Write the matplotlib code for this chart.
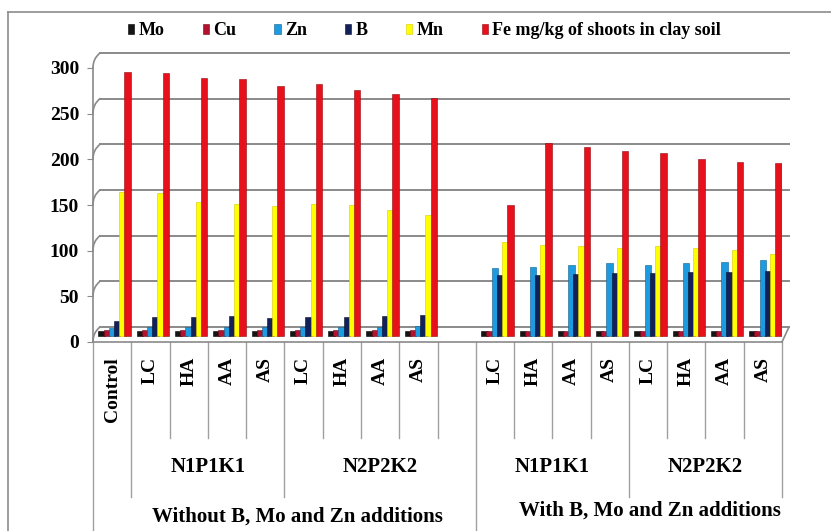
import numpy as np
import matplotlib
matplotlib.use('Agg')
import matplotlib.pyplot as plt
import matplotlib.transforms as mtransforms
from matplotlib.lines import Line2D

plt.rcParams['font.family'] = ['Liberation Serif', 'DejaVu Serif']
plt.rcParams['font.weight'] = 'bold'

# categories
without_labels = ['Control', 'LC', 'HA', 'AA', 'AS', 'LC', 'HA', 'AA', 'AS']
with_labels = ['LC', 'HA', 'AA', 'AS', 'LC', 'HA', 'AA', 'AS']
group_labels = ['N1P1K1', 'N2P2K2', 'N1P1K1', 'N2P2K2']
part_labels = ['Without B, Mo and Zn additions', 'With B, Mo and Zn additions']
series_names = ['Mo', 'Cu', 'Zn', 'B', 'Mn', 'Fe mg/kg of shoots in clay soil']

# values (mg/kg)
mo_without = [6, 6, 6, 6, 6, 6, 6, 6, 6]
mo_with = [5, 5, 5, 5, 5, 5, 5, 5]
cu_without = [7, 7, 7, 7, 7, 7, 7, 7, 7]
cu_with = [5, 5, 5, 5, 5, 5, 5, 5]
zn_without = [9, 10, 10, 10, 10, 10, 10, 10, 11]
zn_with = [74, 76, 78, 80, 78, 80, 81, 83]
b_without = [16, 21, 21, 22, 20, 21, 21, 22, 23]
b_with = [67, 67, 68, 69, 69, 70, 70, 71]
mn_without = [158, 157, 147, 145, 142, 145, 143, 138, 132]
mn_with = [103, 100, 98, 96, 98, 96, 94, 90]
fe_without = [289, 288, 282, 281, 274, 276, 269, 265, 261]
fe_with = [143, 211, 207, 203, 200, 194, 191, 189]

colors = ['#151515', '#b3122e', '#1e9be0', '#13215a', '#ffff00', '#e8101a']
edges = ['#000000', '#6e0a1b', '#0f5f8c', '#070d2a', '#d8c800', '#8c0a10']
grid_c = '#8a8a8a'

W, H = 831, 531
fig = plt.figure(figsize=(W / 100, H / 100), dpi=100)
ax = fig.add_axes([93 / W, (H - 342) / H, (782 - 93) / W, 274 / H])

pos = np.r_[np.arange(9), np.arange(10, 18)]
labels = without_labels + with_labels
series = [mo_without + mo_with, cu_without + cu_with, zn_without + zn_with,
          b_without + b_with, mn_without + mn_with, fe_without + fe_with]

ax.set_xlim(-0.5, 17.5)
ax.set_ylim(0, 300)


def shift(dx, dy):
    return mtransforms.Affine2D().translate(dx, dy)


# back wall gridlines (3d look)
for v in range(0, 301, 50):
    ax.plot([0, 1], [v, v], transform=ax.get_yaxis_transform() + shift(7, 15),
            color=grid_c, lw=1.4, zorder=1, clip_on=False)
    ax.annotate('', xy=(0, v), xycoords=ax.get_yaxis_transform(),
                xytext=(7, 15), textcoords='offset pixels',
                arrowprops=dict(arrowstyle='-', color=grid_c, lw=1.2,
                                shrinkA=0, shrinkB=0,
                                connectionstyle='arc3,rad=0.25'))
ax.annotate('', xy=(1, 0), xycoords='axes fraction', xytext=(7, 15),
            textcoords='offset pixels',
            arrowprops=dict(arrowstyle='-', color=grid_c, lw=1.2,
                            shrinkA=0, shrinkB=0))

width = 0.17
step = 0.135
handles = []
for i, vals in enumerate(series):
    bars = ax.bar(pos + (i - 2.5) * step, vals, width, color=colors[i],
                  edgecolor=edges[i], linewidth=0.4, zorder=3)
    for b in bars:
        b.set_transform(ax.transData + shift(2.5, 6))
    handles.append(bars)

fig.legend(handles, series_names, ncol=6, loc='center left',
           bbox_to_anchor=(128 / W, 1 - 31 / H), frameon=False, fontsize=13,
           handlelength=0.35, handleheight=0.45, handletextpad=0.25,
           columnspacing=2.1, borderpad=0, borderaxespad=0)

for s in ['top', 'right']:
    ax.spines[s].set_visible(False)
for s in ['left', 'bottom']:
    ax.spines[s].set_color(grid_c)
    ax.spines[s].set_linewidth(1.2)
ax.set_xticks([])
ax.set_yticks(range(0, 301, 50))
ax.tick_params(axis='y', length=4, color=grid_c, pad=6, labelsize=14)
ax.patch.set_alpha(0)

# category table below the axis
blend = mtransforms.blended_transform_factory(ax.transData, fig.transFigure)
for p, lab in zip(pos, labels):
    ax.text(p, 1 - 357 / H, lab, rotation=90, ha='center', va='top',
            fontsize=14, transform=blend)

to_bottom = {0, 10}
to_group = {1, 5, 14, 18}
for k in range(19):
    if k in to_bottom:
        y1 = 531
    elif k in to_group:
        y1 = 497
    else:
        y1 = 438
    ax.plot([k - 0.5, k - 0.5], [1 - 342 / H, 1 - y1 / H], transform=blend,
            color='#a0a0a0', lw=1, clip_on=False)

for x, lab in zip([2.5, 7.0, 11.5, 15.5], group_labels):
    ax.text(x, 1 - 467 / H, lab, ha='center', va='center', fontsize=15,
            transform=blend)
ax.text(4.85, 1 - 517 / H, part_labels[0], ha='center', va='center',
        fontsize=15, transform=blend)
ax.text(14.05, 1 - 511 / H, part_labels[1], ha='center', va='center',
        fontsize=15, transform=blend)

# chart area border
fig.add_artist(Line2D([8 / W, 1], [1 - 12 / H, 1 - 12 / H],
                      transform=fig.transFigure, color='#8c8c8c', lw=1.2))
fig.add_artist(Line2D([8 / W, 8 / W], [0, 1 - 12 / H],
                      transform=fig.transFigure, color='#8c8c8c', lw=1.2))

fig.savefig('out.png', dpi=100)
